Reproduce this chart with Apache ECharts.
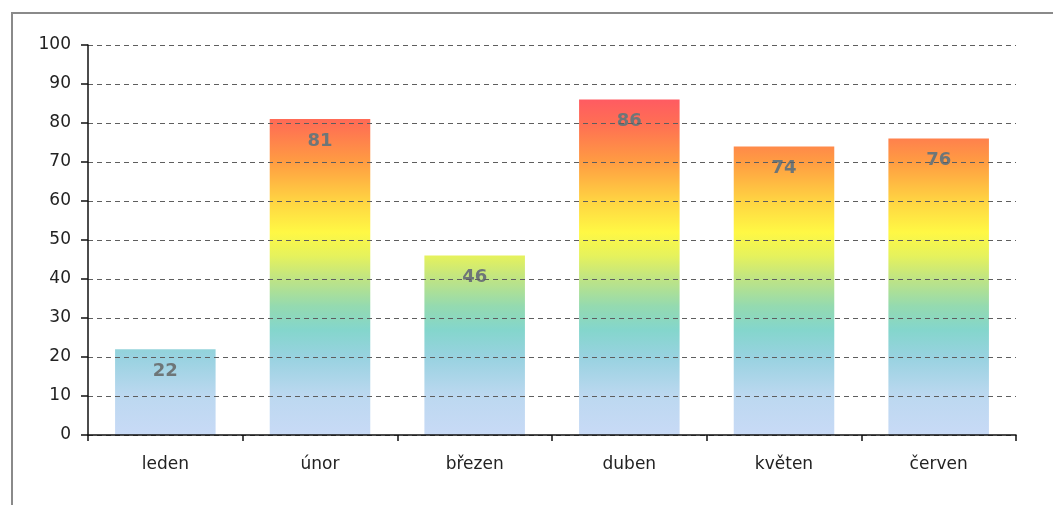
<!DOCTYPE html>
<html>
<head>
    <meta charset="utf-8">
    <title>Měsíce</title>
    <style>
        html, body { margin: 0; padding: 0; background: #fff; }
        #chart1 { width: 1053px; height: 505px; }
    </style>
</head>
<body>
<div id="chart1"></div>
<script src="https://cdn.jsdelivr.net/npm/echarts@6/dist/echarts.min.js"></script>
<script type="text/javascript">
    // data
    const months = ['leden', 'únor', 'březen', 'duben', 'květen', 'červen'];
    const values = [22, 81, 46, 86, 74, 76];
    const yTicks = [0, 10, 20, 30, 40, 50, 60, 70, 80, 90, 100];

    // colour by value (0..100), shared by all bars
    const colorStops = [
        { offset: 0.00, color: '#c8daf6' },
        { offset: 0.10, color: '#bcd8f0' },
        { offset: 0.20, color: '#98d2e0' },
        { offset: 0.27, color: '#84d6cc' },
        { offset: 0.33, color: '#94dab0' },
        { offset: 0.40, color: '#bfe484' },
        { offset: 0.46, color: '#e6f25c' },
        { offset: 0.52, color: '#fff844' },
        { offset: 0.60, color: '#ffd442' },
        { offset: 0.70, color: '#ff9c42' },
        { offset: 0.80, color: '#ff6e54' },
        { offset: 0.87, color: '#ff5864' },
        { offset: 1.00, color: '#ff4870' }
    ];

    let myChart1 = echarts.init(document.getElementById('chart1'));

    const font = '"DejaVu Sans", Verdana, sans-serif';

    myChart1.setOption({
        animation: false,
        graphic: [{
            type: 'rect',
            shape: { x: 12, y: 13, width: 1060, height: 520 },
            style: { fill: 'none', stroke: '#8a8a8a', lineWidth: 2 },
            silent: true
        }],
        grid: { left: 88, right: 37, top: 45, bottom: 70 },
        xAxis: {
            type: 'category',
            data: months,
            axisLine: { lineStyle: { color: '#111', width: 1.5 } },
            axisTick: { show: true, length: 6, lineStyle: { color: '#111', width: 1.5 } },
            axisLabel: { color: '#222', fontSize: 17, fontFamily: font, margin: 21 }
        },
        yAxis: {
            type: 'value',
            min: yTicks[0],
            max: yTicks[yTicks.length - 1],
            interval: 10,
            axisLine: { show: true, lineStyle: { color: '#111', width: 1.5 } },
            axisTick: { show: true, length: 7, lineStyle: { color: '#111', width: 1.5 } },
            axisLabel: { color: '#222', fontSize: 17, fontFamily: font, margin: 17 },
            splitLine: { show: true, lineStyle: { color: '#5e5e5e', type: [5, 4], width: 1 } }
        },
        series: [{
            type: 'bar',
            data: values,
            z: -1,
            barCategoryGap: '35%',
            itemStyle: { color: '#bcd8f0' },
            label: {
                show: true,
                position: 'insideTop',
                distance: 13,
                color: '#6e7678',
                fontSize: 18,
                fontWeight: 'bold',
                fontFamily: font
            }
        }]
    });

    // gradient in pixel space so every bar shares the same value→colour scale
    const y0 = myChart1.convertToPixel({ yAxisIndex: 0 }, yTicks[0]);
    const y1 = myChart1.convertToPixel({ yAxisIndex: 0 }, yTicks[yTicks.length - 1]);
    myChart1.setOption({
        series: [{
            itemStyle: {
                color: new echarts.graphic.LinearGradient(0, y0, 0, y1, colorStops, true)
            }
        }]
    });
</script>
</body>
</html>
